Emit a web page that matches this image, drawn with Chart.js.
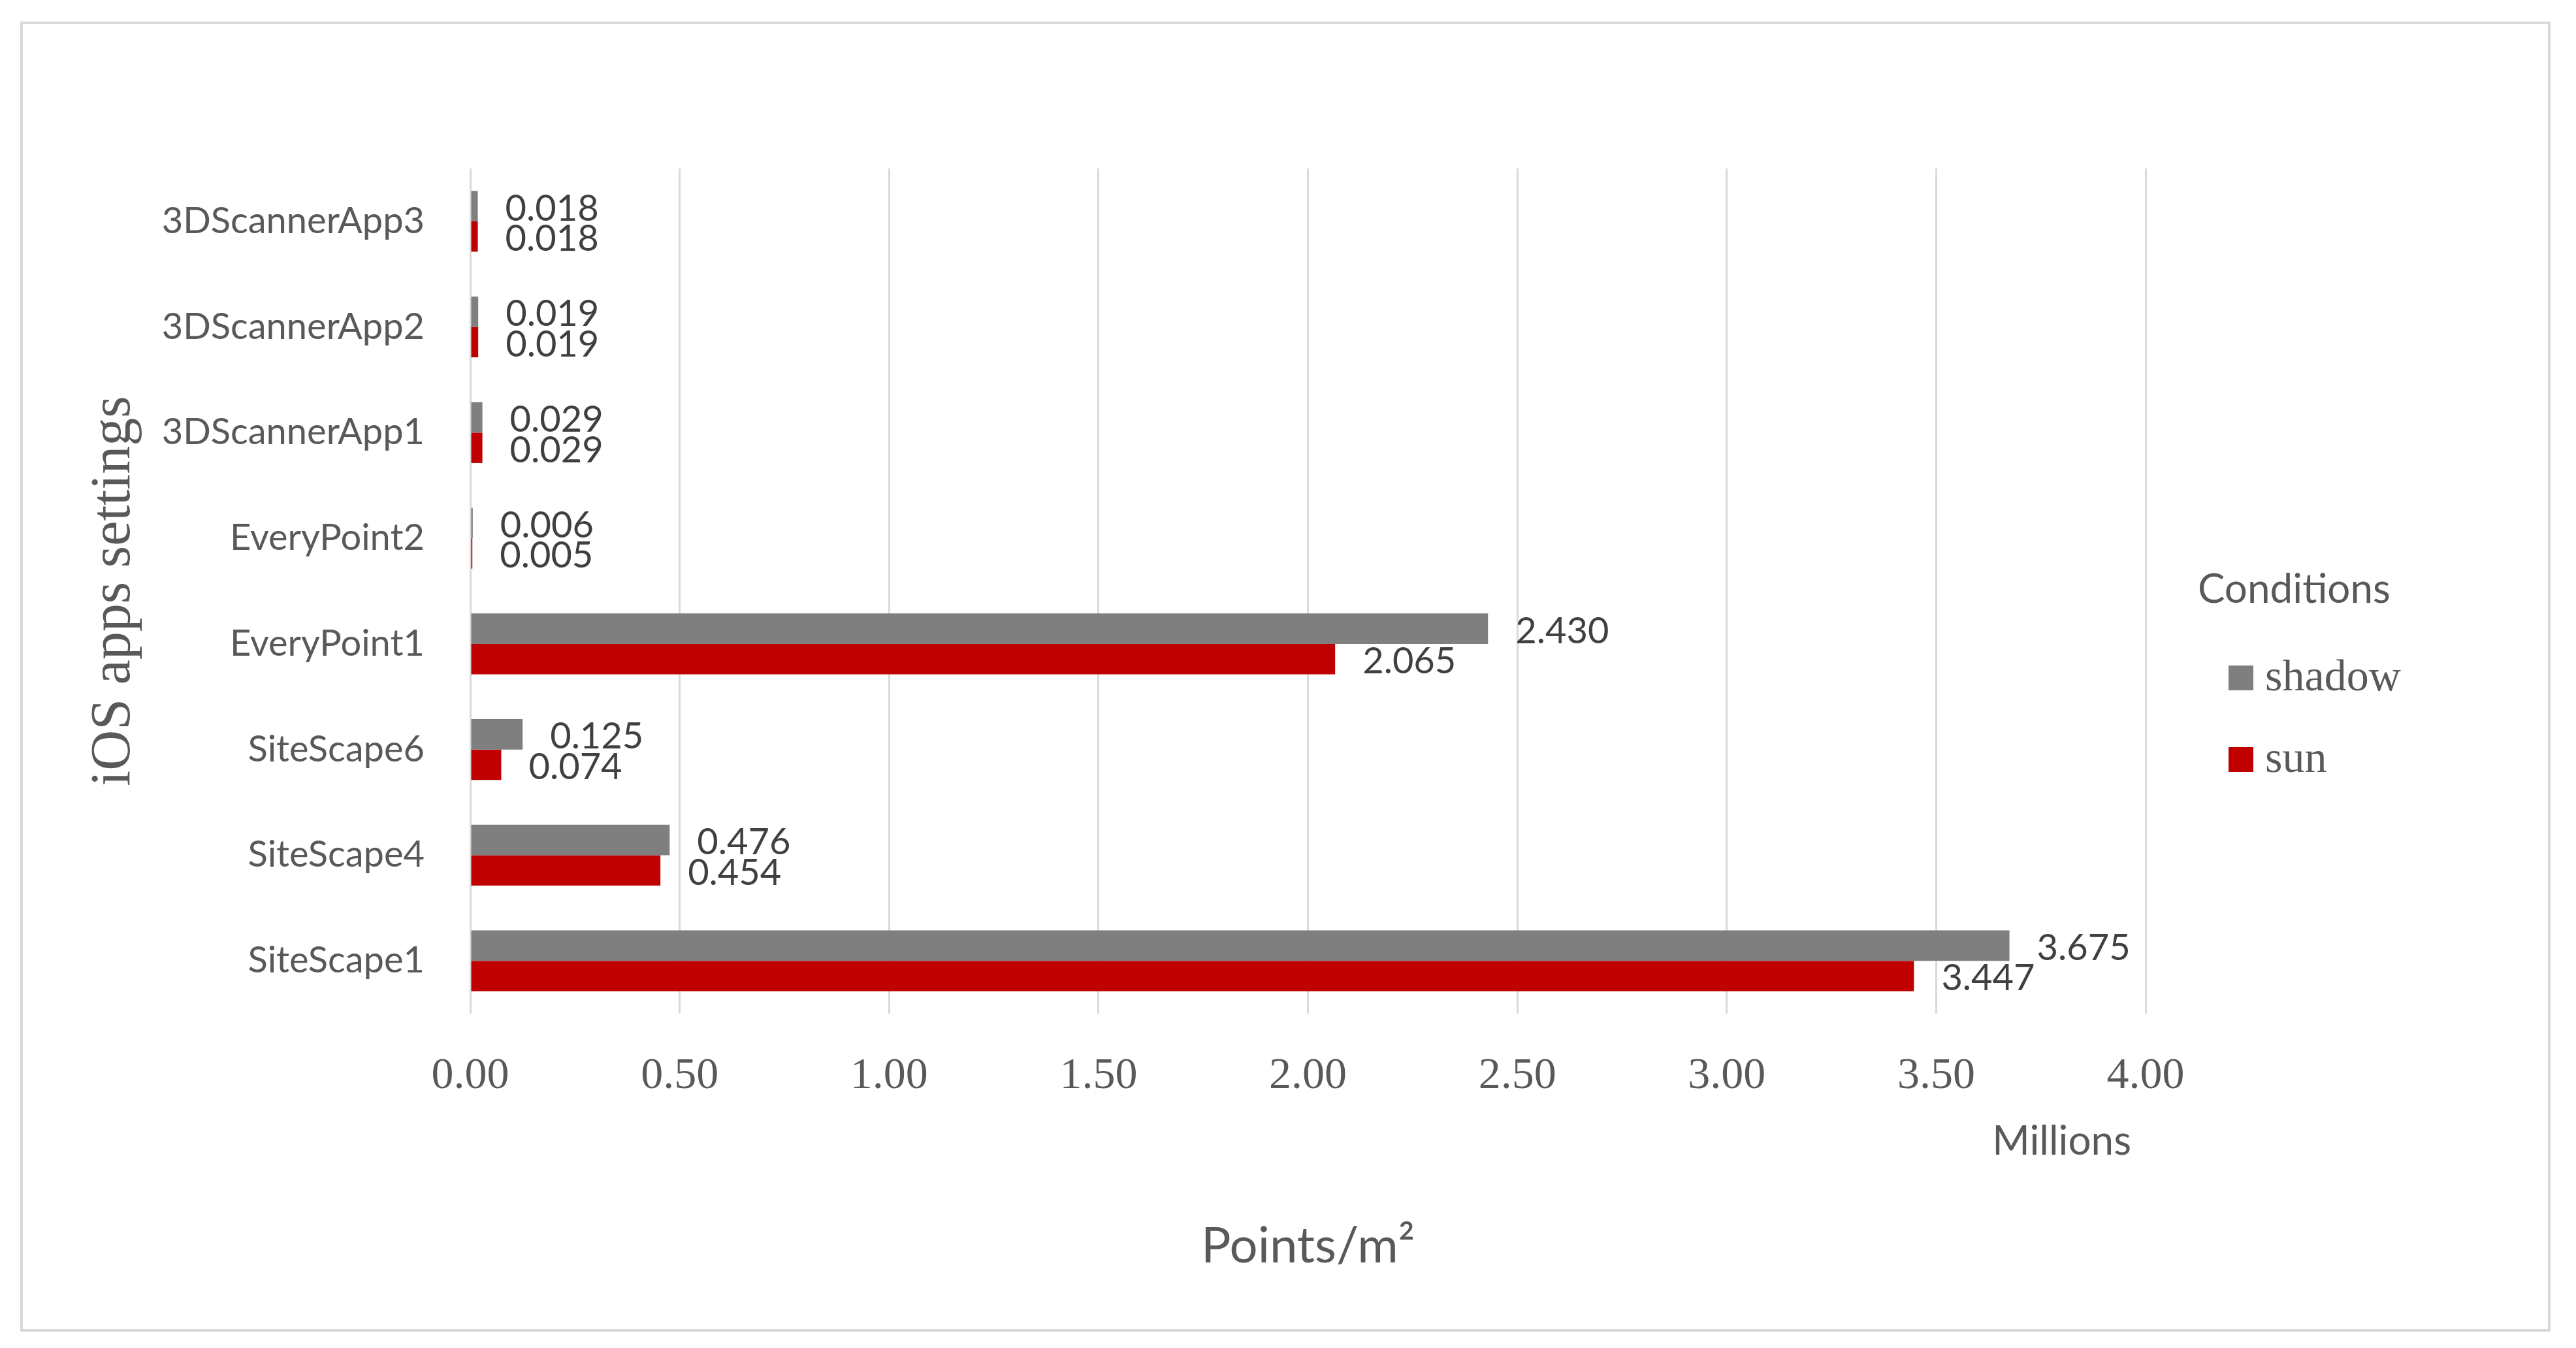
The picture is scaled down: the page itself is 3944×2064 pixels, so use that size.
<!DOCTYPE html>
<html>
<head>
<meta charset="utf-8">
<script src="https://cdn.jsdelivr.net/npm/chart.js@4/dist/chart.umd.min.js"></script>
<style>
  html, body { margin: 0; padding: 0; background: #fff; }
  canvas { display: block; }
</style>
</head>
<body>
<canvas id="appsChart" width="3944" height="2064"></canvas>
<script>
// categories listed top to bottom, as in the picture
const categories = ['3DScannerApp3', '3DScannerApp2', '3DScannerApp1', 'EveryPoint2',
  'EveryPoint1', 'SiteScape6', 'SiteScape4', 'SiteScape1'];
const shadowValues = [0.018, 0.019, 0.029, 0.006, 2.430, 0.125, 0.476, 3.675];
const sunValues = [0.018, 0.019, 0.029, 0.005, 2.065, 0.074, 0.454, 3.447];
const xMin = 0;
const xMax = 4;
const xStep = 0.5;

const sansFont = 'Lato, "Open Sans", sans-serif';
const serifFont = '"Liberation Serif", serif';

// outer frame
const frame = {
  id: 'frame',
  beforeDraw(chart) {
    const ctx = chart.ctx;
    ctx.save();
    ctx.fillStyle = '#fff';
    ctx.fillRect(0, 0, chart.width, chart.height);
    ctx.strokeStyle = '#d9d9d9';
    ctx.lineWidth = 4;
    ctx.strokeRect(33, 35, 3870, 2002);
    ctx.restore();
  }
};

// numbers at the end of each bar
const valueLabels = {
  id: 'valueLabels',
  afterDatasetsDraw(chart) {
    const ctx = chart.ctx;
    ctx.save();
    ctx.font = '56px ' + sansFont;
    ctx.fillStyle = '#404040';
    ctx.textAlign = 'left';
    ctx.textBaseline = 'middle';
    chart.data.datasets.forEach((ds, i) => {
      chart.getDatasetMeta(i).data.forEach((bar, j) => {
        ctx.fillText(ds.data[j].toFixed(3), bar.x + 42, bar.y + 4);
      });
    });
    ctx.restore();
  }
};

// "Millions" unit label and the legend on the right
const extras = {
  id: 'extras',
  afterDraw(chart) {
    const ctx = chart.ctx;
    const x = chart.scales.x;
    ctx.save();
    ctx.fillStyle = '#595959';
    ctx.font = '62px ' + sansFont;
    ctx.textAlign = 'right';
    ctx.textBaseline = 'middle';
    ctx.fillText('Millions', x.right - 22, 1748);

    ctx.textAlign = 'left';
    ctx.textBaseline = 'alphabetic';
    ctx.fillText('Conditions', 3365, 923);
    ctx.font = '68px ' + serifFont;
    chart.data.datasets.forEach((ds, i) => {
      const y = 1019 + i * 125;
      ctx.fillStyle = ds.backgroundColor;
      ctx.fillRect(3412, y, 38, 38);
      ctx.fillStyle = '#595959';
      ctx.fillText(ds.label, 3468, y + 38);
    });
    ctx.restore();
  }
};

const ctx = document.getElementById('appsChart').getContext('2d');

const appsChart = new Chart(ctx, {
  type: 'bar',
  data: {
    labels: categories,
    datasets: [{
      label: 'shadow',
      data: shadowValues,
      backgroundColor: '#7f7f7f'
    },
    {
      label: 'sun',
      data: sunValues,
      backgroundColor: '#c00000'
    }]
  },
  options: {
    indexAxis: 'y',
    responsive: false,
    animation: false,
    devicePixelRatio: 1,
    categoryPercentage: 0.575,
    barPercentage: 1,
    layout: {
      padding: { top: 258, right: 659, bottom: 0, left: 0 }
    },
    scales: {
      x: {
        min: xMin,
        max: xMax,
        afterFit(scale) { scale.height = 512; },
        grid: { color: '#d9d9d9', lineWidth: 3, drawTicks: false },
        border: { display: false },
        ticks: {
          stepSize: xStep,
          padding: 55,
          color: '#595959',
          font: { family: serifFont, size: 68 },
          callback: (v) => Number(v).toFixed(2)
        },
        title: {
          display: true,
          text: 'Points/m²',
          color: '#595959',
          font: { family: sansFont, size: 76 },
          padding: { top: 0, bottom: 110 }
        }
      },
      y: {
        afterFit(scale) { scale.width = 720; },
        grid: { display: false },
        border: { display: false },
        ticks: {
          padding: 62,
          color: '#595959',
          font: { family: sansFont, size: 56 }
        },
        title: {
          display: true,
          text: 'iOS apps settings',
          color: '#595959',
          font: { family: serifFont, size: 86 },
          padding: { top: 124, bottom: 0 }
        }
      }
    },
    plugins: {
      legend: { display: false },
      tooltip: { enabled: false }
    }
  },
  plugins: [frame, valueLabels, extras]
});
</script>
</body>
</html>
